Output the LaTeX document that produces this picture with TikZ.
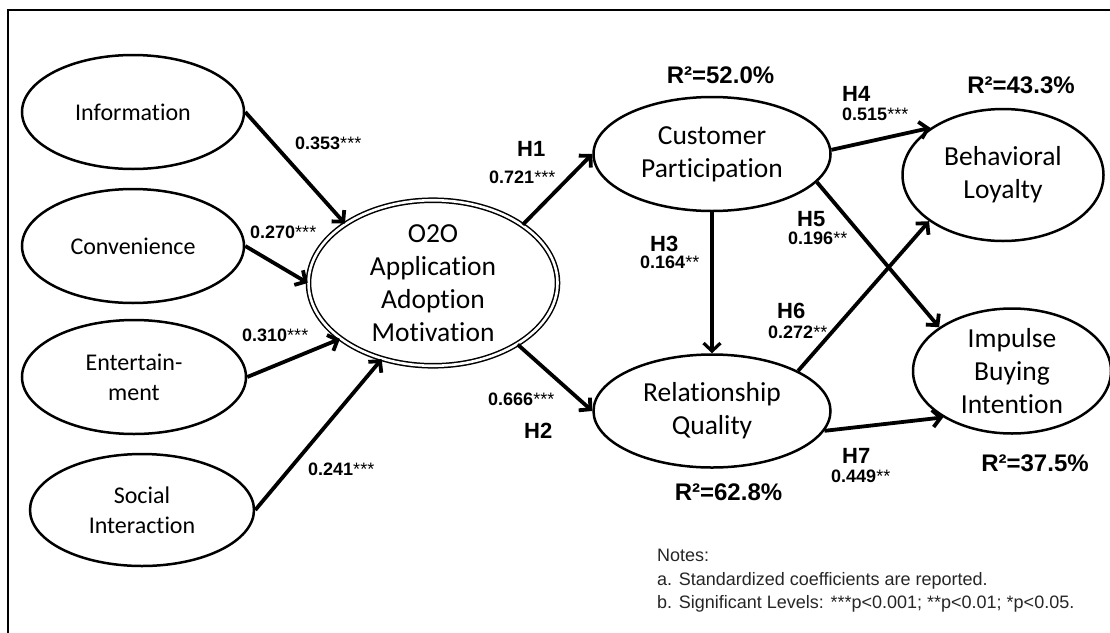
\documentclass[tikz,border=0pt]{standalone}
\usepackage{fontspec}
\setmainfont{Liberation Sans}
\newfontfamily\calib[Ligatures=NoCommon,RawFeature={-liga;-dlig}]{Carlito}
\usetikzlibrary{arrows.meta,shapes.geometric}
\tikzset{
  ellbase/.style={draw, ellipse, line width=2.5pt, inner sep=0pt, align=center, text=black},
  smallell/.style={ellbase, font=\calib\fontsize{24}{30}\selectfont},
  bigell/.style={ellbase, font=\calib\fontsize{27.5}{33}\selectfont},
  arr/.style={line width=3.8pt, -{Straight Barb[length=8pt,width=17pt]}},
  coef/.style={anchor=base west, inner sep=0pt, font=\bfseries\fontsize{18}{20}\selectfont},
  hyp/.style={anchor=base west, inner sep=0pt, font=\bfseries\fontsize{22}{24}\selectfont},
  rsq/.style={anchor=base, inner sep=0pt, font=\bfseries\fontsize{24}{26}\selectfont},
  note/.style={anchor=base west, inner sep=0pt, font=\fontsize{18}{22}\selectfont, text=black!85}
}
\newcommand{\st}[1]{\textmd{#1}}
\begin{document}
\begin{tikzpicture}[x=1pt,y=-1pt]
\useasboundingbox (0,0) rectangle (1110,632);
\clip (0,0) rectangle (1110,632);
\fill[white] (0,0) rectangle (1110,632);
\draw[line width=2.6pt] (8,10) rectangle (1130,650);

% left ellipses
\node[smallell, minimum width=222pt, minimum height=114pt] (info) at (133,112) {Information};
\node[smallell, minimum width=222pt, minimum height=114pt] (conv) at (133,246) {Convenience};
\node[smallell, minimum width=224pt, minimum height=114pt] (ent) at (134,377) {Entertain-\\ment};
\node[smallell, minimum width=224pt, minimum height=112pt] (soc) at (142,510) {Social\\Interaction};

% central
\node[bigell, line width=1.5pt, double, double distance=2.6pt, minimum width=249pt, minimum height=163pt] (o2o) at (433,283) {O2O\\Application\\Adoption\\Motivation};

% mediators and outcomes
\node[bigell, minimum width=237pt, minimum height=114pt] (cp) at (712,154) {Customer\\Participation};
\node[bigell, minimum width=237pt, minimum height=113pt] (rq) at (712,411) {Relationship\\Quality};
\node[bigell, minimum width=201pt, minimum height=132pt] (bl) at (1003,175) {Behavioral\\Loyalty};
\node[bigell, minimum width=198pt, minimum height=125pt] (imp) at (1012,371) {Impulse\\Buying\\Intention};

% arrows
\draw[arr] (info.east) -- (o2o.146);
\draw[arr] (conv.east) -- (o2o.west);
\draw[arr] (ent.east) -- (o2o.211);
\draw[arr] (soc.east) -- (o2o.236);
\draw[arr] (o2o.33) -- (cp.west);
\draw[arr] (o2o.-36) -- (rq.west);
\draw[arr, line width=3.2pt] (cp.south) -- (rq.north);
\draw[arr] (cp.2) -- (bl.147);
\draw[arr] (cp.-15) -- (imp.149);
\draw[arr] (rq.25) -- (bl.212);
\draw[arr] (rq.-10) -- (imp.214);

% coefficient labels
\node[coef] (c1) at (295,149.5) {0.353\st{***}};
\node[coef] (c2) at (250,238.5) {0.270\st{***}};
\node[coef] (c3) at (242,341.5) {0.310\st{***}};
\node[coef] (c4) at (308,475.5) {0.241\st{***}};
\node[coef] (c5) at (489,183.5) {0.721\st{***}};
\node[coef] (c6) at (488,405.5) {0.666\st{***}};
\node[coef] (c7) at (640,268.5) {0.164\st{**}};
\node[coef] (c8) at (842,120.5) {0.515\st{***}};
\node[coef] (c9) at (788,244.5) {0.196\st{**}};
\node[coef] (c10) at (768,338.5) {0.272\st{**}};
\node[coef] (c11) at (831,482.5) {0.449\st{**}};

% hypothesis labels
\node[hyp] (h1) at (517,156) {H1};
\node[hyp] (h2) at (524,438) {H2};
\node[hyp] (h3) at (650,251) {H3};
\node[hyp] (h4) at (842,101) {H4};
\node[hyp] (h5) at (797,226) {H5};
\node[hyp] (h6) at (777,318) {H6};
\node[hyp] (h7) at (842,463) {H7};

% R squared
\node[rsq] (r1) at (720.5,83) {R²=52.0\%};
\node[rsq] (r2) at (1021,93) {R²=43.3\%};
\node[rsq] (r3) at (728.5,500) {R²=62.8\%};
\node[rsq] (r4) at (1035,471) {R²=37.5\%};

% notes
\node[note] (n1) at (657,561) {Notes:};
\node[note] (n2) at (657,585) {a. Standardized coefficients are reported.};
\node[note] (n3) at (657,608) {b. Significant Levels: ***p<0.001; **p<0.01; *p<0.05.};
\end{tikzpicture}
\end{document}
